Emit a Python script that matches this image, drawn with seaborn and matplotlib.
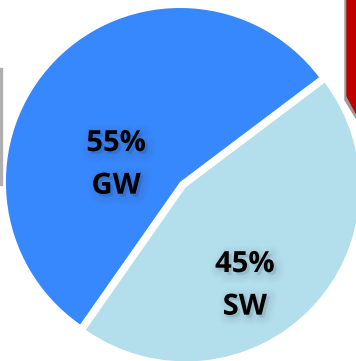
import matplotlib
matplotlib.use("Agg")
import matplotlib.pyplot as plt
import matplotlib.patheffects as pe
from matplotlib.patches import Polygon, Rectangle
import numpy as np
import seaborn as sns

# Water source shares
sources = ["GW", "SW"]
shares = [55, 45]
colors = ["#3787fd", "#b3dfed"]
explode = [0.0, 0.045]

# label placement inside each wedge: (angle in degrees, distance as fraction of radius)
label_polar = [(165, 0.38), (-59, 0.66)]

sns.set_theme(style="white")
plt.rcParams["font.family"] = ["Open Sans", "DejaVu Sans"]

fig = plt.figure(figsize=(3.56, 3.61), dpi=100)
ax = fig.add_axes([0, 0, 1, 1])

wedges, _ = ax.pie(
    shares,
    colors=colors,
    explode=explode,
    startangle=37,
    counterclock=True,
    radius=1.0,
    wedgeprops=dict(linewidth=0),
)

# soft drop shadow behind the labels
shadow = [pe.Stroke(linewidth=w, foreground="#444444", alpha=0.025, offset=(2, -2))
          for w in (12, 9, 6, 3)] + [pe.Normal()]
for w, name, val, (ang, dist) in zip(wedges, sources, shares, label_polar):
    cx, cy = w.center
    r = np.deg2rad(ang)
    x = cx + dist * np.cos(r)
    y = cy + dist * np.sin(r)
    ax.text(x, y, f"{val}%\n{name}", ha="center", va="center",
            fontsize=21, fontweight="bold", color="black",
            linespacing=1.62, path_effects=shadow)

ax.set_xlim(-1.034, 1.011)
ax.set_ylim(-1.029, 1.046)
ax.set_aspect("auto")
ax.axis("off")

# slide fragments at the edges
fig.patches.append(Rectangle((0, 1 - 185 / 361), 2 / 356, (185 - 68) / 361,
                             transform=fig.transFigure, color="#b0b0b0", zorder=0))
fig.patches.append(Polygon([(345 / 356, 1), (345 / 356, 1 - 100 / 361), (356 / 356, 1 - 118 / 361), (356 / 356, 1)],
                           closed=True, transform=fig.transFigure, color="#9a9a9a", zorder=0))
fig.patches.append(Polygon([(347 / 356, 1), (347 / 356, 1 - 96 / 361), (356 / 356, 1 - 113 / 361), (356 / 356, 1)],
                           closed=True, transform=fig.transFigure, color="#c00000", zorder=1))

fig.savefig("out.png", dpi=100)
